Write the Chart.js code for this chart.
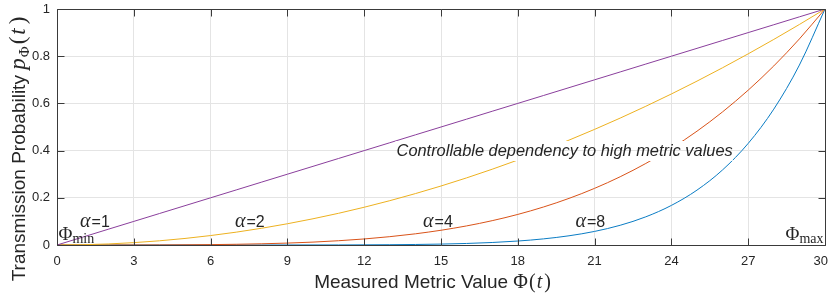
<!DOCTYPE html>
<html>
<head>
<meta charset="utf-8">
<script src="https://cdn.jsdelivr.net/npm/chart.js@4.4.1/dist/chart.umd.min.js"></script>
<style>
html,body{margin:0;padding:0;background:#fff;}
#wrap{width:830px;height:296px;}
</style>
</head>
<body>
<div id="wrap"><canvas id="c" width="830" height="296"></canvas></div>
<script>
// ---- data ----
const xValues = [0,1,2,3,4,5,6,7,8,9,10,11,12,13,14,15,16,17,18,19,20,21,22,23,24,25,26,27,28,29,30];
const pAlpha1 = [0,0.0333,0.0667,0.1,0.1333,0.1667,0.2,0.2333,0.2667,0.3,0.3333,0.3667,0.4,0.4333,0.4667,0.5,0.5333,0.5667,0.6,0.6333,0.6667,0.7,0.7333,0.7667,0.8,0.8333,0.8667,0.9,0.9333,0.9667,1];
const pAlpha2 = [0,0.0011,0.0044,0.01,0.0178,0.0278,0.04,0.0544,0.0711,0.09,0.1111,0.1344,0.16,0.1878,0.2178,0.25,0.2844,0.3211,0.36,0.4011,0.4444,0.49,0.5378,0.5878,0.64,0.6944,0.7511,0.81,0.8711,0.9344,1];
const pAlpha4 = [0,0,0,0.0001,0.0003,0.0008,0.0016,0.003,0.0051,0.0081,0.0123,0.0181,0.0256,0.0353,0.0474,0.0625,0.0809,0.1031,0.1296,0.1609,0.1975,0.2401,0.2892,0.3455,0.4096,0.4823,0.5642,0.6561,0.7588,0.8732,1];
const pAlpha8 = [0,0,0,0,0,0,0,0,0,0.0001,0.0002,0.0003,0.0007,0.0012,0.0022,0.0039,0.0065,0.0106,0.0168,0.0259,0.039,0.0576,0.0836,0.1194,0.1678,0.2326,0.3183,0.4305,0.5758,0.7625,1];
const xTicks = [0,3,6,9,12,15,18,21,24,27,30];
const yTicks = [0,0.2,0.4,0.6,0.8,1];
const xTickLabels = ['0','3','6','9','12','15','18','21','24','27','30'];
const yTickLabels = ['0','0.2','0.4','0.6','0.8','1'];
const alphaLabels = ['1','2','4','8'];
const alphaLabelX = [0.9,6.95,14.3,20.25];
const alphaLabelY = 0.097;
const noteText = 'Controllable dependency to high metric values';
const noteX = 19.83, noteY = 0.398;

const SANS = '"Liberation Sans", Arial, Helvetica, sans-serif';
const SERIF = '"Liberation Serif", "Times New Roman", serif';
const TXT = '#262626';

function mk(arr){ return xValues.map((x,i)=>({x:x,y:arr[i]})); }

function runsWidth(ctx, runs){
  let w=0; for(const r of runs){ ctx.font=r.f; w+=ctx.measureText(r.t).width+(r.sp||0)+(r.pre||0);} return w;
}
function drawRuns(ctx, runs, x, y, align){
  const w = runsWidth(ctx, runs);
  let s = align==='center' ? x-w/2 : align==='right' ? x-w : x;
  ctx.textAlign='left';
  for(const r of runs){
    ctx.font=r.f;
    s += (r.pre||0);
    ctx.fillText(r.t, s, y+(r.dy||0));
    s += ctx.measureText(r.t).width+(r.sp||0);
  }
}

function noteBox(chart){
  const ctx=chart.ctx;
  ctx.font = `italic 16.4px ${SANS}`;
  const w = ctx.measureText(noteText).width;
  const cx = chart.scales.x.getPixelForValue(noteX);
  const cy = chart.scales.y.getPixelForValue(noteY);
  return {cx, cy, l:cx-w/2-1, r:cx+w/2, t:cy-10, b:cy+10};
}

const deco = {
  id:'deco',
  beforeDatasetsDraw(chart){
    const ctx=chart.ctx; const b=noteBox(chart);
    ctx.save();
    ctx.beginPath();
    ctx.rect(0,0,chart.width,chart.height);
    ctx.rect(b.l,b.t,b.r-b.l,b.b-b.t);
    ctx.clip('evenodd');
  },
  afterDatasetsDraw(chart){
    const ctx=chart.ctx; ctx.restore();
    const a=chart.chartArea, xs=chart.scales.x, ys=chart.scales.y;
    const L=Math.round(a.left)+0.5, R=Math.round(a.right)+0.5, T=Math.round(a.top)+0.5, B=Math.round(a.bottom)+0.5;
    ctx.save();
    // frame
    ctx.strokeStyle='#3a3a3a'; ctx.lineWidth=1;
    ctx.beginPath(); ctx.rect(L,T,R-L,B-T); ctx.stroke();
    // inward ticks
    ctx.beginPath();
    xTicks.forEach(v=>{ const px=Math.round(xs.getPixelForValue(v))+0.5;
      ctx.moveTo(px,B); ctx.lineTo(px,B-7); ctx.moveTo(px,T); ctx.lineTo(px,T+7); });
    yTicks.forEach(v=>{ const py=Math.round(ys.getPixelForValue(v))+0.5;
      ctx.moveTo(L,py); ctx.lineTo(L+7,py); ctx.moveTo(R,py); ctx.lineTo(R-7,py); });
    ctx.stroke();
    // x tick labels
    ctx.fillStyle=TXT; ctx.font=`13px ${SANS}`; ctx.textBaseline='middle'; ctx.textAlign='center';
    xTicks.forEach((v,i)=>{ let px=xs.getPixelForValue(v); const w=ctx.measureText(xTickLabels[i]).width;
      if(px+w/2>chart.width-2) px=chart.width-2-w/2; ctx.fillText(xTickLabels[i], px, 261); });
    // note text
    const b=noteBox(chart);
    ctx.font=`italic 16.4px ${SANS}`; ctx.textAlign='center'; ctx.textBaseline='middle';
    ctx.fillText(noteText, b.cx, b.cy);
    // alpha labels
    ctx.textBaseline='middle';
    alphaLabels.forEach((lab,i)=>{
      const px=xs.getPixelForValue(alphaLabelX[i]), py=ys.getPixelForValue(alphaLabelY);
      drawRuns(ctx,[{t:'\u03B1',f:`italic 20px ${SERIF}`,sp:1},{t:'=',f:`16px ${SANS}`},{t:lab,f:`16px ${SANS}`}],px,py,'left');
    });
    // Phi min / max
    ctx.textBaseline='alphabetic';
    drawRuns(ctx,[{t:'\u03A6',f:`19px ${SERIF}`},{t:'min',f:`14px ${SERIF}`,dy:3}],L+1,240,'left');
    drawRuns(ctx,[{t:'\u03A6',f:`19px ${SERIF}`},{t:'max',f:`14px ${SERIF}`,dy:3}],R-2,240,'right');
    // x title
    drawRuns(ctx,[
      {t:'Measured Metric Value ',f:`19px ${SANS}`},
      {t:'\u03A6',f:`20px ${SERIF}`,sp:1},
      {t:'(',f:`20px ${SERIF}`,sp:1},
      {t:'t',f:`italic 20px ${SERIF}`,sp:2},
      {t:')',f:`20px ${SERIF}`}
    ], 432.5, 288, 'center');
    // y title
    ctx.translate(25,149); ctx.rotate(-Math.PI/2);
    drawRuns(ctx,[
      {t:'Transmission Probability ',f:`19px ${SANS}`},
      {t:'p',f:`italic 23px ${SERIF}`,sp:1},
      {t:'\u03A6',f:`15px ${SERIF}`,dy:4,sp:2},
      {t:'(',f:`23px ${SERIF}`,sp:2},
      {t:'t',f:`italic 23px ${SERIF}`,sp:4},
      {t:')',f:`23px ${SERIF}`}
    ], 0, 0, 'center');
    ctx.restore();
  }
};

new Chart(document.getElementById('c'), {
  type:'line',
  data:{ datasets:[
    {data:mk(pAlpha1), borderColor:'#8a3f9c'},
    {data:mk(pAlpha2), borderColor:'#EDB120'},
    {data:mk(pAlpha4), borderColor:'#D95319'},
    {data:mk(pAlpha8), borderColor:'#0a7cc4'}
  ].map(d=>Object.assign(d,{borderWidth:1,pointRadius:0,fill:false,cubicInterpolationMode:'monotone'}))},
  options:{
    responsive:false, animation:false, devicePixelRatio:1,
    layout:{padding:{top:9,right:5,left:0,bottom:0}},
    plugins:{legend:{display:false},tooltip:{enabled:false},title:{display:false}},
    scales:{
      x:{type:'linear',min:0,max:30,
        afterBuildTicks(s){ s.ticks = xTicks.map(v=>({value:v})); },
        afterFit(s){ s.height=51; s.paddingLeft=0; s.paddingRight=0; },
        ticks:{display:false},
        grid:{color:'#e4e4e4',drawTicks:false,lineWidth:1},
        border:{display:false}},
      y:{type:'linear',min:0,max:1,
        afterBuildTicks(s){ s.ticks = yTicks.map(v=>({value:v})); },
        afterFit(s){ s.width=57; s.paddingTop=0; s.paddingBottom=0; },
        ticks:{padding:7,color:TXT,font:{family:SANS,size:13},callback:(v)=>yTickLabels[yTicks.indexOf(v)] ?? ''},
        grid:{color:'#e4e4e4',drawTicks:false,lineWidth:1},
        border:{display:false}}
    }
  },
  plugins:[deco]
});
</script>
</body>
</html>
